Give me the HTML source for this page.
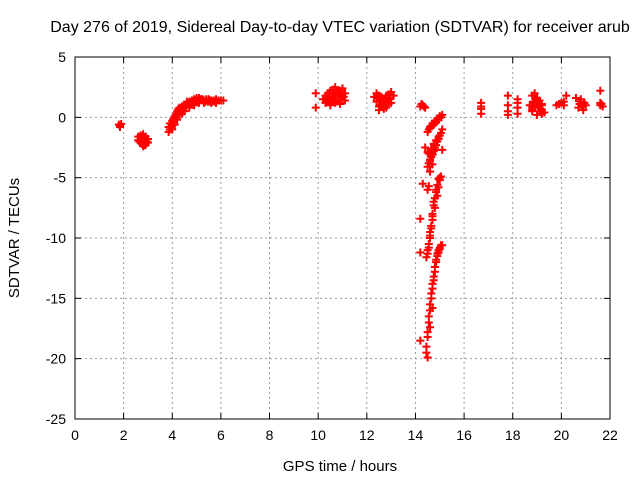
<!DOCTYPE html>
<html><head><meta charset="utf-8"><style>
body{margin:0;background:#fff}
svg{display:block;font-family:"Liberation Sans",sans-serif}
</style></head><body>
<svg id="chart" width="640" height="480">
<rect x="0" y="0" width="640" height="480" fill="#fff"/>
<text x="340" y="32" font-size="16" text-anchor="middle">Day 276 of 2019, Sidereal Day-to-day VTEC variation (SDTVAR) for receiver arub</text>
<g id="grid"></g>
<g id="axes"></g>
<g id="marks"></g>
<text x="340" y="471" font-size="15" text-anchor="middle">GPS time / hours</text>
<text transform="translate(19,238) rotate(-90)" font-size="15" text-anchor="middle">SDTVAR / TECUs</text>
</svg>
<script>
const xTicks=[0,2,4,6,8,10,12,14,16,18,20,22];
const yTicks=[5,0,-5,-10,-15,-20,-25];
const hours=[1.8,1.85,1.9,1.85,
2.6,2.7,2.8,2.9,3.0,2.65,2.75,2.85,2.95,2.7,2.8,2.9,2.6,2.7,2.8,2.9,3.0,2.75,2.85,
3.85,3.85,3.9,4.0,4.05,4.1,4.15,4.2,4.25,4.3,4.4,4.5,4.6,4.7,4.8,4.9,5.0,5.1,5.2,5.3,5.4,5.5,5.6,5.7,5.8,5.9,6.0,6.1,4.0,4.1,4.2,4.3,4.5,4.7,4.9,5.1,5.3,5.5,4.4,3.9,4.0,4.6,4.8,5.0,5.2,5.6,5.8,4.35,4.45,4.55,4.65,4.75,4.85,4.95,5.05,5.15,5.25,5.35,5.45,5.55,5.65,5.75,3.95,4.05,4.15,4.25,
9.9,9.9,10.2,10.3,10.4,10.5,10.6,10.7,10.8,10.9,11.0,11.1,10.3,10.5,10.7,10.9,11.1,10.4,10.6,10.8,11.0,10.5,10.7,10.9,10.35,10.45,10.55,10.65,10.75,10.85,10.95,11.05,10.4,10.6,10.8,11.0,10.5,10.7,10.9,10.6,10.8,
12.3,12.4,12.5,12.6,12.7,12.8,12.9,13.0,13.1,12.4,12.6,12.8,13.0,12.5,12.7,12.9,12.6,12.8,12.7,12.45,12.55,12.65,12.75,12.85,12.95,12.5,12.7,12.9,12.6,12.8,
14.2,14.3,14.4,14.25,14.35,
14.5,14.6,14.7,14.8,14.9,15.0,15.1,14.55,14.75,14.95,14.65,14.85,15.05,14.6,14.8,
14.5,14.6,14.7,14.8,14.9,15.0,15.1,14.55,14.65,14.75,14.85,14.95,14.4,15.1,14.6,14.7,14.55,14.65,14.75,14.85,14.95,15.05,14.6,14.7,14.8,14.5,14.6,
14.45,14.55,14.6,14.7,14.8,14.9,14.95,15.0,15.05,14.5,14.65,14.75,14.85,14.3,14.2,14.2,14.5,14.55,14.5,14.55,14.6,14.65,14.7,14.75,14.8,14.85,14.9,14.95,15.0,14.6,14.7,
14.5,14.55,14.6,14.65,14.7,14.75,14.8,14.85,14.9,14.95,15.0,15.05,15.1,14.45,14.5,14.45,14.2,14.5,14.55,14.6,14.65,14.7,14.75,14.8,14.85,14.9,14.95,15.0,14.6,14.7,
16.7,16.7,16.7,16.7,17.8,17.8,17.8,17.8,18.2,18.2,18.2,18.2,18.7,18.8,18.9,19.0,19.1,19.2,19.3,18.8,19.0,19.2,18.9,19.1,18.8,19.0,19.2,18.85,18.95,19.05,19.15,18.9,19.1,18.8,19.0,19.2,19.1,
19.8,20.0,20.1,20.2,19.9,20.1,20.6,20.8,21.0,20.7,20.9,20.8,20.75,20.85,20.95,21.6,21.6,21.7,21.6,21.65];
const tecu=[-0.6,-0.7,-0.55,-0.8,
-1.6,-1.5,-1.4,-1.6,-1.8,-2.0,-2.2,-2.3,-2.0,-1.8,-1.9,-2.2,-1.9,-2.1,-2.4,-2.3,-2.1,-1.6,-1.7,
-1.2,-0.8,-0.5,-0.3,-0.1,0.1,0.3,0.5,0.7,0.8,0.9,1.0,1.1,1.3,1.4,1.5,1.6,1.6,1.5,1.4,1.5,1.5,1.4,1.4,1.5,1.4,1.4,1.4,-1.0,-0.6,-0.2,0.2,0.5,0.8,1.0,1.2,1.2,1.3,0.3,-1.0,-0.7,1.3,1.2,1.3,1.4,1.2,1.2,0.6,0.7,0.9,1.1,1.2,1.3,1.4,1.4,1.5,1.5,1.3,1.3,1.4,1.3,1.3,-0.8,-0.4,0.0,0.4,
2.0,0.8,1.5,1.8,2.0,2.2,2.3,2.0,1.8,2.2,2.4,2.0,1.2,1.0,1.3,1.1,1.4,1.6,1.5,1.7,1.8,2.2,2.5,1.5,1.4,1.6,1.7,1.9,2.1,2.0,1.9,1.7,2.0,1.9,2.1,1.8,1.1,1.2,1.2,1.4,1.3,
1.7,2.0,1.8,1.5,1.2,1.6,1.9,2.1,1.8,1.3,1.0,0.8,1.2,0.6,0.9,1.1,1.4,1.5,0.7,1.6,1.4,1.2,1.0,1.3,1.5,0.9,0.8,1.6,1.7,1.8,
0.9,1.0,0.8,1.1,0.9,
-1.2,-0.8,-0.5,-0.3,-0.1,0.1,0.2,-1.0,-0.6,-0.2,-0.7,-0.4,0.0,-0.9,-0.5,
-4.1,-3.5,-3.0,-2.5,-2.0,-1.5,-1.0,-3.8,-3.3,-2.8,-2.3,-1.8,-2.5,-2.7,-4.5,-3.9,-3.0,-2.6,-2.2,-1.9,-1.6,-1.3,-3.5,-3.1,-2.7,-2.9,-3.6,
-11.6,-10.5,-9.5,-8.5,-7.5,-6.5,-5.8,-5.2,-4.9,-11.0,-9.0,-7.0,-6.0,-5.5,-8.4,-11.2,-6.0,-5.7,-11.3,-10.8,-10.0,-9.2,-8.2,-7.3,-6.7,-6.2,-5.6,-5.1,-5.0,-9.8,-8.0,
-18.2,-17.0,-16.0,-15.0,-14.2,-13.5,-12.8,-12.0,-11.5,-11.2,-10.8,-10.6,-10.6,-19.0,-19.9,-19.5,-18.5,-17.8,-16.5,-15.5,-14.6,-13.8,-13.2,-12.4,-11.8,-11.3,-11.0,-10.9,-17.4,-15.8,
1.2,0.7,0.3,0.9,1.8,1.0,0.2,0.5,1.5,0.8,0.3,1.2,1.0,1.8,2.0,1.5,1.0,0.6,0.4,0.5,0.2,0.3,1.2,1.4,0.8,1.6,1.1,1.3,1.5,1.0,0.7,0.9,0.8,0.6,1.3,1.0,0.5,
1.0,1.2,1.0,1.8,1.1,1.3,1.6,1.3,1.0,0.8,0.6,1.5,1.1,0.9,1.2,2.2,1.2,0.9,1.0,1.1];
const X0=75,X1=610,Y0=419,Y1=57;
const xs=v=>X0+(v-0)/22*(X1-X0);
const ys=v=>Y0-(v+25)/30*(Y0-Y1);
const NS="http://www.w3.org/2000/svg";
function mk(t,a,p){const e=document.createElementNS(NS,t);for(const k in a)e.setAttribute(k,a[k]);p.appendChild(e);return e;}
const grid=document.getElementById('grid'),axes=document.getElementById('axes'),marks=document.getElementById('marks');
xTicks.forEach((t,i)=>{const x=xs(t);
if(i>0&&i<xTicks.length-1){const g=mk('line',{x1:x,x2:x,y1:Y1,y2:Y0,stroke:'#999','stroke-dasharray':'2,3'},grid);

}
mk('line',{x1:x,x2:x,y1:Y0,y2:Y0-6,stroke:'#000'},axes);mk('line',{x1:x,x2:x,y1:Y1,y2:Y1+6,stroke:'#000'},axes);
const l=mk('text',{x:x,y:Y0+21,'font-size':14,'text-anchor':'middle'},axes);l.textContent=t;

});
yTicks.forEach((t,i)=>{const y=ys(t);
if(i>0&&i<yTicks.length-1){const g=mk('line',{x1:X0,x2:X1,y1:y,y2:y,stroke:'#999','stroke-dasharray':'2,3'},grid);

}
mk('line',{x1:X0,x2:X0+6,y1:y,y2:y,stroke:'#000'},axes);mk('line',{x1:X1,x2:X1-6,y1:y,y2:y,stroke:'#000'},axes);
const l=mk('text',{x:X0-9,y:y+5,'font-size':14,'text-anchor':'end'},axes);l.textContent=t;

});
const f=mk('rect',{x:X0,y:Y1,width:X1-X0,height:Y0-Y1,fill:'none',stroke:'#000'},axes);


let d='';
hours.forEach((h,i)=>{const x=xs(h),y=ys(tecu[i]);d+=`M${x-4},${y}h8M${x},${y-4}v8`;});
const p=mk('path',{d:d,stroke:'#f00','stroke-width':2,fill:'none'},marks);


</script>
</body></html>
